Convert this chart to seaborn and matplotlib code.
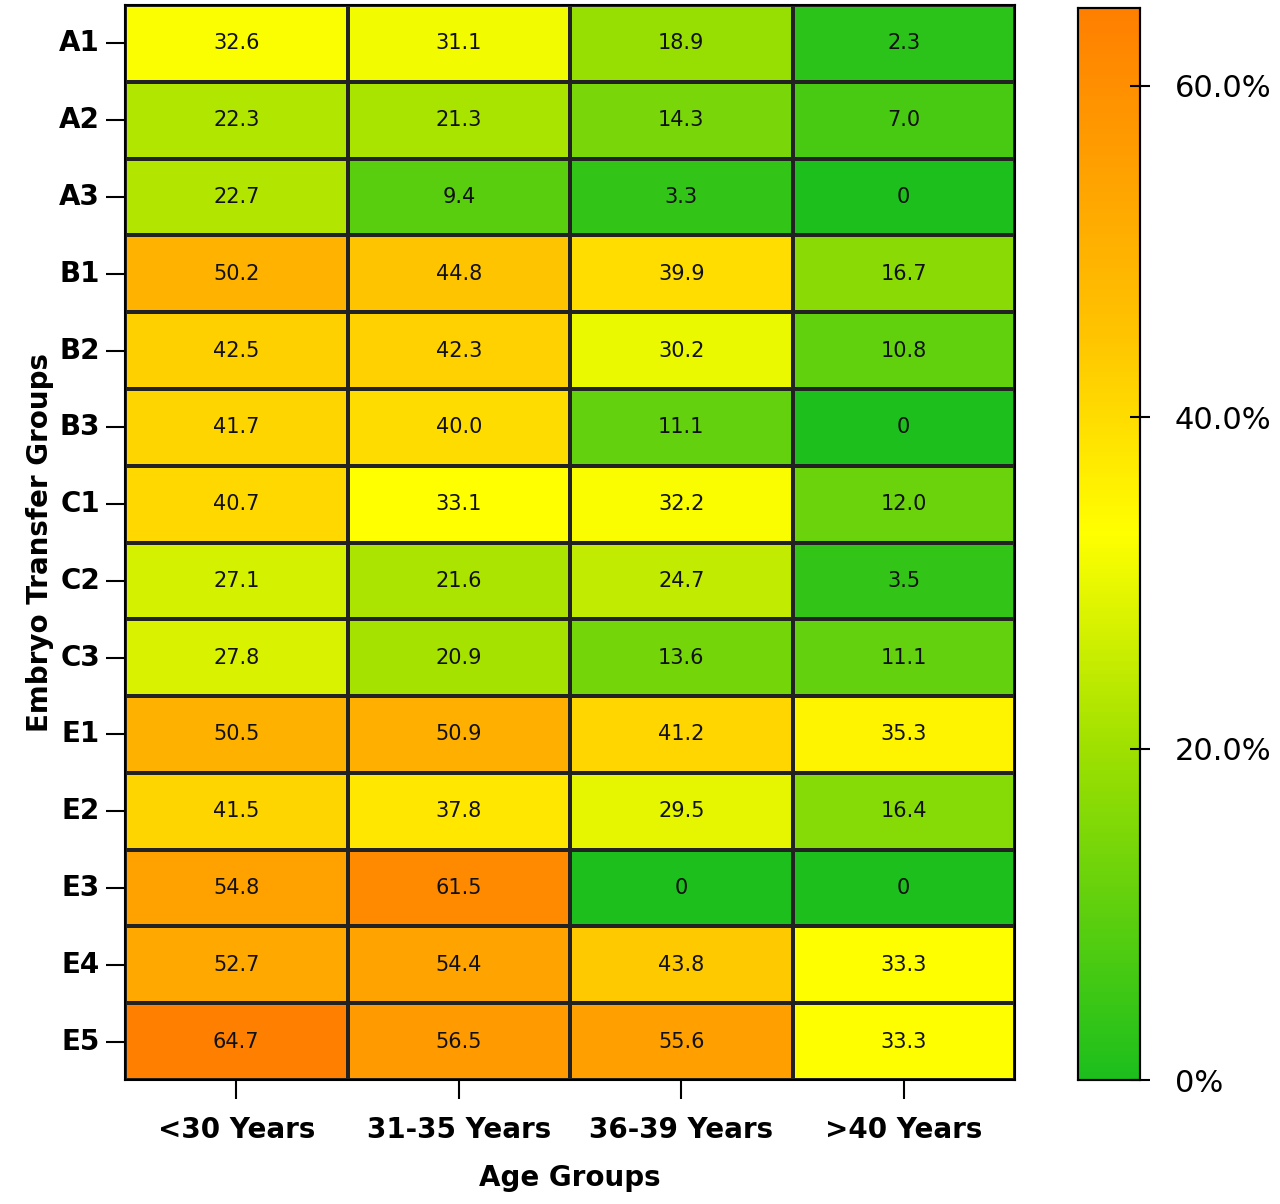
import numpy as np
import pandas as pd
import matplotlib
matplotlib.use("Agg")
import matplotlib.pyplot as plt
import seaborn as sns
from matplotlib.colors import LinearSegmentedColormap

rows = ["A1","A2","A3","B1","B2","B3","C1","C2","C3","E1","E2","E3","E4","E5"]
cols = ["<30 Years","31-35 Years","36-39 Years",">40 Years"]
c1 = [32.6,22.3,22.7,50.2,42.5,41.7,40.7,27.1,27.8,50.5,41.5,54.8,52.7,64.7]
c2 = [31.1,21.3,9.4,44.8,42.3,40.0,33.1,21.6,20.9,50.9,37.8,61.5,54.4,56.5]
c3 = [18.9,14.3,3.3,39.9,30.2,11.1,32.2,24.7,13.6,41.2,29.5,0,43.8,55.6]
c4 = [2.3,7.0,0,16.7,10.8,0,12.0,3.5,11.1,35.3,16.4,0,33.3,33.3]

df = pd.DataFrame({cols[0]: c1, cols[1]: c2, cols[2]: c3, cols[3]: c4}, index=rows)
annot = df.map(lambda v: "0" if v == 0 else f"{v:.1f}")

vmax = 64.7
cmap = LinearSegmentedColormap.from_list("gyo", [
    (0.0, "#1cbf1c"),
    (20/vmax, "#9fe000"),
    (33/vmax, "#ffff00"),
    (45/vmax, "#ffc400"),
    (1.0, "#ff7f00")])

fig = plt.figure(figsize=(12.8, 12.04), dpi=100)
ax = fig.add_axes([125/1280, 1-1080/1204, 890/1280, 1075/1204])
cax = fig.add_axes([1078/1280, 1-1080/1204, 62/1280, 1072/1204])
sns.heatmap(df, ax=ax, cbar_ax=cax, cmap=cmap, vmin=0, vmax=vmax,
            annot=annot, fmt="", linewidths=1.5, linecolor="#222222",
            annot_kws={"fontsize": 15, "color": "#111111"})
for s in ax.spines.values():
    s.set_visible(True); s.set_linewidth(1.5)
ax.tick_params(axis="both", length=14, width=1.5, pad=4)
ax.set_yticklabels(rows, rotation=0, fontsize=20, fontweight="bold")
ax.set_xticklabels(cols, rotation=0, fontsize=20, fontweight="bold")
ax.tick_params(axis="x", pad=12)
ax.set_xlabel("Age Groups", fontsize=20, fontweight="bold", labelpad=14)
ax.set_ylabel("Embryo Transfer Groups", fontsize=20, fontweight="bold", labelpad=4)

cax.set_yticks([0, 20, 40, 60])
cax.set_yticklabels(["0%", "20.0%", "40.0%", "60.0%"], fontsize=22)
cax.tick_params(axis="y", direction="inout", length=14, width=1.5, pad=18)
for s in cax.spines.values():
    s.set_visible(True); s.set_linewidth(1.5)

fig.savefig("out.png", dpi=100)
